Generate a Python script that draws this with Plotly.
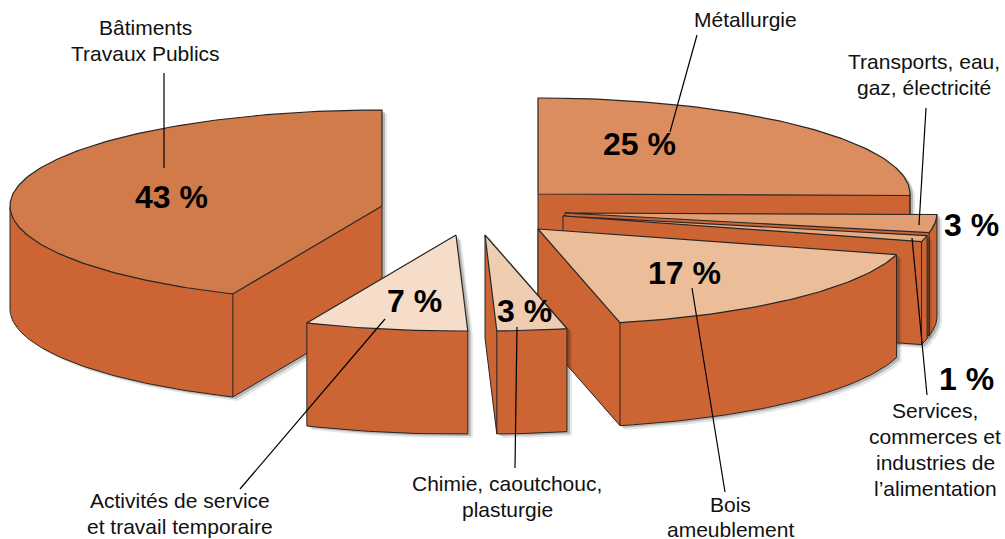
import numpy as np
import plotly.graph_objects as go

# ---- data ----
labels = ["Métallurgie", "Transports, eau, gaz, électricité",
          "Services, commerces et industries de l'alimentation",
          "Bois ameublement", "Chimie, caoutchouc, plasturgie",
          "Activités de service et travail temporaire",
          "Bâtiments Travaux Publics"]
values = [25, 3, 1, 17, 3, 7, 43]
percent_text = ["25 %", "3 %", "1 %", "17 %", "3 %", "7 %", "43 %"]

# ---- layout / style ----
W, H = 1005, 539
RX, RY, DEPTH = 372, 96, 103
START_ANGLE = 90.0
top_colors = ["#DB8D5F", "#E19E72", "#E5AC84", "#EBBD98", "#EFCDB0", "#F5DDC9", "#D17B4A"]
side_color = "#CC6433"
edge_color = "#262626"
# where each slice's apex sits once the pie has been pulled apart
apex_x = [538, 565, 563, 538, 485, 456, 382]
apex_y = [194, 213, 216, 229, 235, 235, 206]
draw_order = [6, 5, 0, 1, 2, 3, 4]
pct_x = [639, 971, 966, 684, 524, 414, 171]
pct_y = [144, 225, 379, 273, 311, 301, 197]

text_lines = ["Bâtiments", "Travaux Publics", "Métallurgie", "Transports, eau,", "gaz, électricité",
              "Services,", "commerces et", "industries de", "l’alimentation", "Bois", "ameublement",
              "Chimie, caoutchouc,", "plasturgie", "Activités de service", "et travail temporaire"]
text_x = [145, 145, 745, 924, 924, 935, 935, 935, 935, 730, 730, 507, 507, 180, 180]
text_y = [27, 53, 19, 61, 87, 410, 436, 462, 488, 504, 529, 483, 509, 500, 526]

leader_x0 = [164, 697, 926, 912, 692, 517, 385]
leader_y0 = [73, 35, 108, 238, 288, 327, 319]
leader_x1 = [164, 670, 919, 927, 725, 515, 240]
leader_y1 = [168, 132, 225, 395, 492, 468, 489]


def hull(pts):
    pts = sorted(set(pts))
    def half(seq):
        out = []
        for p in seq:
            while len(out) > 1 and ((out[-1][0]-out[-2][0])*(p[1]-out[-2][1])
                                    - (out[-1][1]-out[-2][1])*(p[0]-out[-2][0])) <= 0:
                out.pop()
            out.append(p)
        return out[:-1]
    return half(pts) + half(pts[::-1])


def wedge(cx, cy, t0, t1):
    n = max(int(abs(t1 - t0)), 4)
    t = np.radians(np.linspace(t0, t1, n + 1))
    xs = cx + RX * np.cos(t)
    ys = cy - RY * np.sin(t)
    return [(cx, cy)] + list(zip(xs.tolist(), ys.tolist()))


fig = go.Figure()
scale = 360.0 / sum(values)
ends = START_ANGLE - np.cumsum(values) * scale
starts = np.concatenate([[START_ANGLE], ends[:-1]])


def add(x, y, **kw):
    fig.add_trace(go.Scatter(x=x, y=y, mode="lines", hoverinfo="skip", showlegend=False, **kw))


for i in draw_order:
    poly = wedge(apex_x[i], apex_y[i], starts[i], ends[i])
    m = len(poly)
    # soft drop shadow
    pts = hull([(round(p[0], 2), round(p[1], 2)) for p in poly] +
               [(round(p[0], 2), round(p[1] + DEPTH, 2)) for p in poly])
    for dx, dy, alpha in [(5, 4, 0.10), (3, 2, 0.20)]:
        add([p[0] + dx for p in pts] + [pts[0][0] + dx], [p[1] + dy for p in pts] + [pts[0][1] + dy],
            fill="toself", fillcolor=f"rgba(0,0,0,{alpha})", line=dict(width=0))
    # which boundary segments face the viewer (the screen-down side of the slice)
    front = [poly[(k + 1) % m][0] < poly[k][0] - 1e-9 for k in range(m)]
    # join consecutive front segments into one face, starting after a back segment
    first = next((k for k in range(m) if not front[k]), 0)
    runs, run = [], []
    for off in range(1, m + 1):
        k = (first + off) % m
        if front[k]:
            if not run:
                run = [poly[k]]
            run.append(poly[(k + 1) % m])
        elif run:
            runs.append(run)
            run = []
    if run:
        runs.append(run)
    sx, sy, ex, ey = [], [], [], []
    for r in runs:
        xr = [p[0] for p in r]
        yr = [p[1] for p in r]
        sx += xr + xr[::-1] + [xr[0], None]
        sy += yr + [v + DEPTH for v in yr[::-1]] + [yr[0], None]
        ex += xr + [None]
        ey += [v + DEPTH for v in yr] + [None]
        ex += [xr[0], xr[0], None, xr[-1], xr[-1], None]
        ey += [yr[0], yr[0] + DEPTH, None, yr[-1], yr[-1] + DEPTH, None]
    for k in (0, 1, m - 1):
        if front[k] and front[k - 1]:
            ex += [poly[k][0], poly[k][0], None]
            ey += [poly[k][1], poly[k][1] + DEPTH, None]
    add(sx, sy, fill="toself", fillcolor=side_color, line=dict(width=0))
    add(ex, ey, line=dict(width=1, color=edge_color))
    # top face
    add([p[0] for p in poly] + [poly[0][0]], [p[1] for p in poly] + [poly[0][1]],
        fill="toself", fillcolor=top_colors[i], line=dict(width=1.2, color=edge_color))

# leader lines
for x0, y0, x1, y1 in zip(leader_x0, leader_y0, leader_x1, leader_y1):
    add([x0, x1], [y0, y1], line=dict(width=1.2, color="black"))

annotations = []
for t, x, y in zip(percent_text, pct_x, pct_y):
    annotations.append(dict(x=x, y=y, text=f"<b>{t}</b>", showarrow=False, xref="x", yref="y",
                            font=dict(family="Liberation Sans", size=32, color="black")))
for t, x, y in zip(text_lines, text_x, text_y):
    annotations.append(dict(x=x, y=y, text=t, showarrow=False, xref="x", yref="y",
                            font=dict(family="Liberation Sans", size=21, color="#111111")))

fig.update_layout(
    width=W, height=H, autosize=False,
    margin=dict(l=0, r=0, t=0, b=0),
    paper_bgcolor="white", plot_bgcolor="white",
    xaxis=dict(range=[0, W], visible=False, fixedrange=True),
    yaxis=dict(range=[H, 0], visible=False, fixedrange=True),
    annotations=annotations, showlegend=False,
)
fig.write_html("out.html", config={"displayModeBar": False},
               post_script="document.body.style.margin='0';document.documentElement.style.overflow='hidden';")
